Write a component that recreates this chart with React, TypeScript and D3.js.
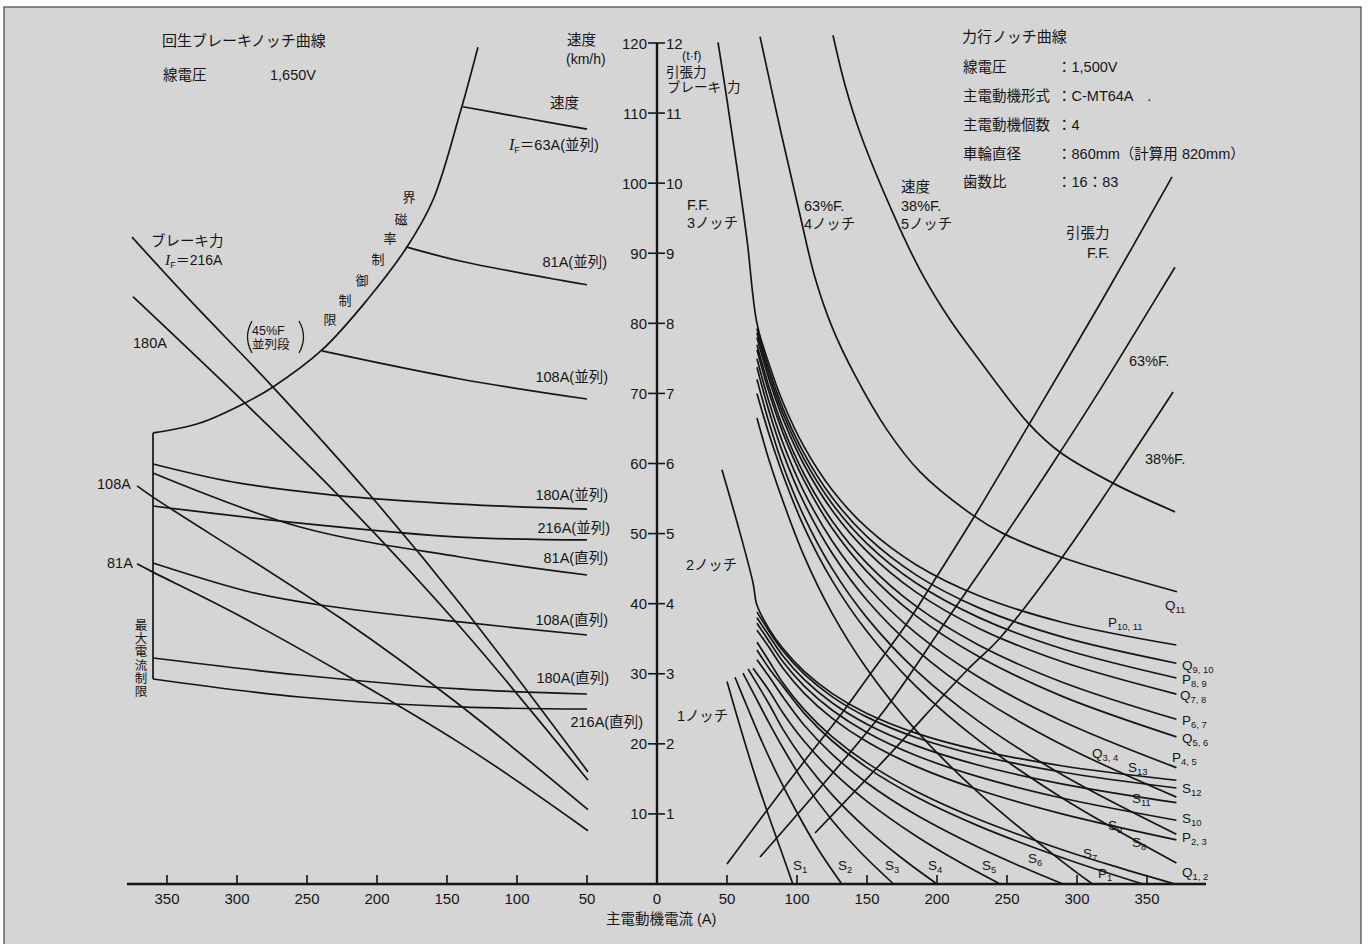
import React from 'react';
import * as d3 from 'd3';

type Pt = [number, number];

// ---------- axis ticks ----------
const currentTickValues = [50, 100, 150, 200, 250, 300, 350];
const speedTickValues = [10, 20, 30, 40, 50, 60, 70, 80, 90, 100, 110, 120];
const forceTickLabels = ['1', '2', '3', '4', '5', '6', '7', '8', '9', '10', '11', '12'];

// ---------- powering (right side): [current A, speed km/h] ----------
const notch3FF_P1011: Pt[] = [[43.6, 120.1], [50, 111.9], [57.1, 102.3], [64.3, 91.9], [71.4, 80.0], [80, 74.2], [90, 68.7], [105, 62.4], [125, 56.25], [150, 50.8], [185, 45.56], [230, 41.13], [290, 37.32], [371, 34.1]];
const notch4_63F_Q11: Pt[] = [[73.6, 120.9], [88.6, 107.2], [102.1, 95.5], [112.9, 86.5], [125, 79.5], [141.4, 72.6], [164.3, 64.8], [187.9, 58.8], [225, 52.7], [246.4, 50.1], [287.9, 46.7], [371.4, 41.7]];
const notch5_38F: Pt[] = [[125.7, 121.1], [134.3, 114.0], [145, 107.2], [168.6, 95.7], [187.9, 87.6], [209.3, 80.5], [228.6, 75.2], [265, 65.8], [287.9, 61.6], [325.7, 57.2], [370, 53.1]];
const Q910: Pt[] = [[71.4, 79.25], [80, 73.4], [90, 67.83], [105, 61.44], [125, 55.17], [150, 49.56], [185, 44.11], [230, 39.4], [290, 35.22], [371, 31.5]];
const P89: Pt[] = [[71.4, 78.65], [80, 72.75], [90, 67.14], [105, 60.67], [125, 54.3], [150, 48.57], [185, 42.94], [230, 38.01], [290, 33.53], [371, 29.4]];
const Q78: Pt[] = [[71.4, 77.98], [80, 72.04], [90, 66.37], [105, 59.82], [125, 53.34], [150, 47.47], [185, 41.65], [230, 36.47], [290, 31.67], [371, 27.1]];
const P67: Pt[] = [[71.4, 76.94], [80, 70.93], [90, 65.17], [105, 58.5], [125, 51.84], [150, 45.76], [185, 39.64], [230, 34.08], [290, 28.76], [371, 23.5]];
const Q56: Pt[] = [[71.4, 76.22], [80, 70.15], [90, 64.34], [105, 57.58], [125, 50.8], [150, 44.58], [185, 38.25], [230, 32.42], [290, 26.74], [371, 21.0]];
const P45: Pt[] = [[71.4, 74.95], [80, 68.8], [90, 62.88], [105, 55.96], [125, 48.98], [150, 42.49], [185, 35.79], [230, 29.49], [290, 23.19], [371, 16.6]];
const Q34: Pt[] = [[71.4, 73.74], [80, 67.5], [90, 61.48], [105, 54.41], [125, 47.23], [150, 40.49], [185, 33.45], [230, 26.7], [290, 19.8], [371, 12.4]];
const P23: Pt[] = [[71.4, 72.0], [80, 65.86], [90, 59.72], [105, 52.46], [125, 45.03], [150, 37.97], [185, 30.49], [230, 23.17], [290, 15.52], [371, 7.1]];
const Q12: Pt[] = [[71.4, 70.0], [80, 64.2], [90, 58.36], [105, 50.95], [125, 43.32], [150, 36.03], [185, 28.2], [230, 20.45], [290, 12.2], [371, 3.0]];
const P1: Pt[] = [[71.4, 66.5], [80, 60.5], [90, 54.62], [105, 46.81], [125, 38.64], [150, 30.68], [185, 21.92], [230, 12.96], [290, 3.12], [311, 0]];
const notch2_S13: Pt[] = [[46.4, 59.1], [59.3, 50.1], [68.6, 42.95], [71.4, 39.8], [80, 36.41], [90, 33.6], [105, 30.37], [125, 27.2], [150, 24.33], [185, 21.53], [230, 19.07], [290, 16.84], [371, 14.8]];
const S12: Pt[] = [[71.4, 38.8], [80, 36.07], [90, 33.24], [105, 29.97], [125, 26.74], [150, 23.81], [185, 20.91], [230, 18.34], [290, 15.95], [371, 13.7]];
const S11: Pt[] = [[71.4, 38.0], [80, 35.42], [90, 32.54], [105, 29.19], [125, 25.86], [150, 22.81], [185, 19.74], [230, 16.94], [290, 14.26], [371, 11.6]];
const S10: Pt[] = [[71.4, 37.2], [80, 34.65], [90, 31.71], [105, 28.27], [125, 24.83], [150, 21.62], [185, 18.34], [230, 15.28], [290, 12.24], [371, 9.1]];
const S9: Pt[] = [[71.4, 36.2], [80, 33.78], [90, 30.78], [105, 27.24], [125, 23.66], [150, 20.29], [185, 16.78], [230, 13.42], [290, 9.98], [371, 6.3]];
const S8: Pt[] = [[71.4, 34.5], [80, 31.82], [90, 28.67], [105, 24.91], [125, 21.02], [150, 17.28], [185, 13.24], [230, 9.2], [290, 4.86], [330, 2.34], [370, 0]];
const S7: Pt[] = [[71.4, 33.4], [80, 30.8], [90, 28.2], [105, 24.39], [125, 20.44], [150, 16.61], [185, 12.45], [230, 8.26], [290, 3.72], [347, 0]];
const S6: Pt[] = [[71.4, 32.0], [80, 29.6], [90, 26.67], [105, 22.69], [125, 18.53], [150, 14.42], [185, 9.88], [230, 5.2], [260, 2.5], [290, 0]];
const S5: Pt[] = [[68.6, 30.8], [80, 27.6], [90, 24.4], [105, 20.4], [125, 16.1], [150, 11.8], [185, 6.85], [215, 3.23], [245, 0]];
const S4: Pt[] = [[65, 30.7], [80, 25.69], [90, 22.06], [105, 17.59], [125, 12.76], [150, 7.84], [175, 3.67], [200, 0]];
const S3: Pt[] = [[61.4, 30.1], [70, 26.8], [80, 23.0], [90, 19.4], [105, 14.5], [125, 9.1], [145, 4.6], [169, 0]];
const S2: Pt[] = [[55.7, 29.5], [65, 25.0], [75, 20.3], [85, 16.0], [100, 10.2], [115, 5.0], [132, 0]];
const S1: Pt[] = [[50, 28.9], [60, 22.0], [70, 15.5], [80, 9.6], [90, 4.0], [97, 0]];

// tractive force (right): [current A, force t]
const tractiveFF: Pt[] = [[50, 0.285], [73.6, 0.92], [104.3, 1.727], [130.7, 2.4], [154.3, 3.05], [178.6, 3.72], [197.1, 4.3], [225, 5.19], [266.4, 6.58], [317.9, 8.33], [367.9, 10.09]];
const tractive63F: Pt[] = [[73.6, 0.385], [116.4, 1.37], [164.3, 2.53], [207.1, 3.77], [245, 4.87], [280.7, 5.94], [316.4, 7.05], [347.1, 8.05], [370, 8.8]];
const tractive38F: Pt[] = [[112.9, 0.728], [164.3, 1.81], [221.4, 3.05], [245, 3.51], [287.9, 4.62], [325.7, 5.72], [368.6, 7.02]];

// ---------- regenerative brake (left side): [current A, speed km/h] ----------
const fieldLimitBoundary: Pt[] = [[360, 64.36], [326.4, 65.78], [294.3, 68.64], [274.3, 70.92], [239.3, 76.2], [207.1, 83.33], [178.6, 90.9], [160, 97.6], [140.7, 110.0], [127.9, 119.4]];
const maxCurrentLimit: Pt[] = [[360, 64.36], [360, 29.25]];
const brake63P: Pt[] = [[138.6, 110.9], [94.3, 109.3], [50, 107.7]];
const brake81P: Pt[] = [[179.3, 90.9], [140.7, 88.9], [50, 85.5]];
const brake108P: Pt[] = [[239.3, 76.06], [140.7, 72.06], [50, 69.2]];
const brake180P: Pt[] = [[360, 59.93], [302.9, 57.36], [231.4, 55.5], [140.7, 54.2], [50, 53.5]];
const brake216P: Pt[] = [[360, 53.94], [255, 51.5], [140.7, 49.5], [50, 49.1]];
const brake81S: Pt[] = [[360, 58.65], [255, 50.94], [140.7, 46.66], [50, 44.09]];
const brake108S: Pt[] = [[360, 45.8], [290.7, 41.67], [240.7, 39.81], [140.7, 37.39], [50, 35.53]];
const brake180S: Pt[] = [[360, 32.25], [255, 29.82], [140.7, 27.83], [50, 27.11]];
const brake216S: Pt[] = [[360, 29.25], [255, 26.68], [140.7, 25.26], [50, 24.97]];

// brake force (left): [current A, force t]
const brakeForce216: Pt[] = [[375, 9.23], [333.6, 8.33], [274.3, 7.09], [205, 5.55], [140.7, 4.0], [49.3, 1.6]];
const brakeForce180: Pt[] = [[374.3, 8.38], [294.3, 6.86], [226.4, 5.52], [140.7, 3.67], [49.3, 1.48]];
const brakeForce108: Pt[] = [[371.4, 5.68], [360, 5.52], [224.3, 3.77], [140.7, 2.55], [49.3, 1.06]];
const brakeForce81: Pt[] = [[371.4, 4.57], [360, 4.45], [292.9, 3.77], [140.7, 2.01], [49.3, 0.76]];

const rightSpeedCurves = [notch3FF_P1011, notch4_63F_Q11, notch5_38F, Q910, P89, Q78, P67, Q56, P45, Q34, P23, Q12, P1,
  notch2_S13, S12, S11, S10, S9, S8, S7, S6, S5, S4, S3, S2, S1];
const rightForceCurves = [tractiveFF, tractive63F, tractive38F];
const leftSpeedCurves = [fieldLimitBoundary, maxCurrentLimit, brake63P, brake81P, brake108P, brake180P, brake216P, brake81S, brake108S, brake180S, brake216S];
const leftForceCurves = [brakeForce216, brakeForce180, brakeForce108, brakeForce81];

// ---------- scales ----------
const xR = d3.scaleLinear().domain([0, 350]).range([657, 1147]);
const xL = d3.scaleLinear().domain([0, 350]).range([657, 167]);
const yV = d3.scaleLinear().domain([0, 120]).range([884, 43]);
const yF = d3.scaleLinear().domain([0, 12]).range([884, 43]);

const crv = d3.curveCatmullRom.alpha(0.5);
const lineRV = d3.line<Pt>().x(d => xR(d[0])).y(d => yV(d[1])).curve(crv);
const lineRF = d3.line<Pt>().x(d => xR(d[0])).y(d => yF(d[1])).curve(crv);
const lineLV = d3.line<Pt>().x(d => xL(d[0])).y(d => yV(d[1])).curve(crv);
const lineLF = d3.line<Pt>().x(d => xL(d[0])).y(d => yF(d[1])).curve(crv);

const FONT = "'Liberation Sans', 'Noto Sans CJK JP', sans-serif";
const INK = '#151515';

const T = ({ x, y, children, size = 14.5, anchor = 'start' }: any) => (
  <text x={x} y={y} fontSize={size} textAnchor={anchor} dominantBaseline="central" fill={INK} fontFamily={FONT}>{children}</text>
);

const Sub = ({ x, y, main, sub, size = 13.5 }: any) => (
  <text x={x} y={y} fontSize={size} fill={INK} fontFamily={FONT}>
    {main}<tspan fontSize={size * 0.7} dy={3}>{sub}</tspan>
  </text>
);

const IF = ({ x, y, rest, size = 14.5 }: any) => (
  <text x={x} y={y} fontSize={size} fill={INK} fontFamily={FONT}>
    <tspan fontStyle="italic" fontFamily="'Liberation Serif', serif" fontSize={size + 1.5}>I</tspan>
    <tspan fontSize={9} dy={3}>F</tspan>
    <tspan dy={-3}>{rest}</tspan>
  </text>
);

export default function App() {
  const fieldChars = [['界', 409, 197], ['磁', 401, 219], ['率', 390, 238], ['制', 378, 259], ['御', 362, 280], ['制', 345, 300], ['限', 330, 319]];
  const maxChars = ['最', '大', '電', '流', '制', '限'];
  return (
    <svg width={1370} height={944} style={{ position: 'absolute', left: 0, top: 0 }}>
      <rect x={0} y={0} width={1370} height={944} fill="#ffffff" />
      <rect x={4} y={7} width={1357} height={945} fill="#d5d5d5" stroke="#444" strokeWidth={1.2} />

      {/* curves */}
      <g fill="none" stroke={INK} strokeWidth={1.7}>
        {rightSpeedCurves.map((c, i) => <path key={'rs' + i} d={lineRV(c) || ''} />)}
        {rightForceCurves.map((c, i) => <path key={'rf' + i} d={lineRF(c) || ''} />)}
        {leftSpeedCurves.map((c, i) => <path key={'ls' + i} d={lineLV(c) || ''} />)}
        {leftForceCurves.map((c, i) => <path key={'lf' + i} d={lineLF(c) || ''} />)}
      </g>

      {/* axes */}
      <g stroke={INK}>
        <line x1={127} x2={1206} y1={yV(0)} y2={yV(0)} strokeWidth={2.4} />
        <line x1={xR(0)} x2={xR(0)} y1={yV(120)} y2={yV(0)} strokeWidth={2.4} />
        {currentTickValues.map(v => (
          <g key={'xt' + v} strokeWidth={1.6}>
            <line x1={xR(v)} x2={xR(v)} y1={yV(0) - 9} y2={yV(0)} />
            <line x1={xL(v)} x2={xL(v)} y1={yV(0) - 9} y2={yV(0)} />
          </g>
        ))}
        {speedTickValues.map(v => (
          <line key={'yt' + v} x1={xR(0) - 9} x2={xR(0) + 8} y1={yV(v)} y2={yV(v)} strokeWidth={1.6} />
        ))}
      </g>
      {currentTickValues.map(v => (
        <g key={'xl' + v}>
          <T x={xR(v)} y={898} size={15} anchor="middle">{v}</T>
          <T x={xL(v)} y={898} size={15} anchor="middle">{v}</T>
        </g>
      ))}
      <T x={xR(0)} y={898} size={15} anchor="middle">0</T>
      {speedTickValues.map((v, i) => (
        <g key={'yl' + v}>
          <T x={xR(0) - 10} y={yV(v)} size={15} anchor="end">{v}</T>
          <T x={xR(0) + 9} y={yV(v)} size={15}>{forceTickLabels[i]}</T>
        </g>
      ))}
      <T x={606} y={919}>主電動機電流 (A)</T>

      {/* axis headings */}
      <T x={567} y={40}>速度</T>
      <T x={566} y={59} size={14}>(km/h)</T>
      <T x={682} y={56} size={12.5}>(t·f)</T>
      <T x={666} y={72} size={13.5}>引張力</T>
      <T x={667} y={87} size={13.5}>ブレーキ</T>
      <T x={727} y={87} size={13.5}>力</T>

      {/* left title block */}
      <T x={162} y={40} size={15}>回生ブレーキノッチ曲線</T>
      <T x={163} y={75}>線電圧</T>
      <T x={270} y={75}>1,650V</T>

      {/* right title block */}
      <T x={962} y={36} size={15}>力行ノッチ曲線</T>
      <T x={963} y={67}>線電圧</T>
      <T x={1057} y={67}>：1,500V</T>
      <T x={963} y={96}>主電動機形式</T>
      <T x={1057} y={96}>：C-MT64A　.</T>
      <T x={963} y={125}>主電動機個数</T>
      <T x={1057} y={125}>：4</T>
      <T x={963} y={154}>車輪直径</T>
      <T x={1057} y={154}>：860mm（計算用  820mm）</T>
      <T x={963} y={182}>歯数比</T>
      <T x={1057} y={182}>：16：83</T>

      {/* left side labels */}
      <T x={550} y={103}>速度</T>
      <IF x={509} y={150} rest="＝63A(並列)" />
      <T x={607} y={262} anchor="end">81A(並列)</T>
      <T x={608} y={377} anchor="end">108A(並列)</T>
      <T x={608} y={495} anchor="end">180A(並列)</T>
      <T x={610} y={528} anchor="end">216A(並列)</T>
      <T x={608} y={558} anchor="end">81A(直列)</T>
      <T x={608} y={620} anchor="end">108A(直列)</T>
      <T x={609} y={678} anchor="end">180A(直列)</T>
      <T x={643} y={722} anchor="end">216A(直列)</T>
      <T x={151} y={241}>ブレーキ力</T>
      <IF x={165} y={265} rest="＝216A" size={14} />
      <T x={133} y={343}>180A</T>
      <T x={97} y={484}>108A</T>
      <T x={107} y={563}>81A</T>
      {maxChars.map((c, i) => <T key={'mc' + i} x={141} y={626 + 13.2 * i} size={12.5} anchor="middle">{c}</T>)}
      {fieldChars.map((c, i) => <T key={'fc' + i} x={c[1]} y={c[2]} size={13} anchor="middle">{c[0]}</T>)}
      <T x={252} y={331} size={12.5}>45%F</T>
      <T x={252} y={345} size={12.5}>並列段</T>
      <path d="M252 321 Q243 337 252 353" fill="none" stroke={INK} strokeWidth={1.3} />
      <path d="M299 321 Q308 337 299 353" fill="none" stroke={INK} strokeWidth={1.3} />

      {/* right side labels */}
      <T x={687} y={205}>F.F.</T>
      <T x={687} y={223}>3ノッチ</T>
      <T x={804} y={206}>63%F.</T>
      <T x={804} y={224}>4ノッチ</T>
      <T x={901} y={187}>速度</T>
      <T x={901} y={206}>38%F.</T>
      <T x={901} y={224}>5ノッチ</T>
      <T x={1066} y={233}>引張力</T>
      <T x={1087} y={253}>F.F.</T>
      <T x={1129} y={361}>63%F.</T>
      <T x={1145} y={459}>38%F.</T>
      <T x={686} y={565}>2ノッチ</T>
      <T x={677} y={716}>1ノッチ</T>

      <Sub x={1165} y={610} main="Q" sub="11" />
      <Sub x={1108} y={627} main="P" sub="10, 11" />
      <Sub x={1182} y={670} main="Q" sub="9, 10" />
      <Sub x={1182} y={684} main="P" sub="8, 9" />
      <Sub x={1180} y={700} main="Q" sub="7, 8" />
      <Sub x={1182} y={725} main="P" sub="6, 7" />
      <Sub x={1182} y={743} main="Q" sub="5, 6" />
      <Sub x={1172} y={762} main="P" sub="4, 5" />
      <Sub x={1092} y={758} main="Q" sub="3, 4" />
      <Sub x={1128} y={772} main="S" sub="13" />
      <Sub x={1182} y={793} main="S" sub="12" />
      <Sub x={1132} y={803} main="S" sub="11" />
      <Sub x={1182} y={823} main="S" sub="10" />
      <Sub x={1108} y={830} main="S" sub="9" />
      <Sub x={1182} y={842} main="P" sub="2, 3" />
      <Sub x={1132} y={847} main="S" sub="8" />
      <Sub x={1083} y={858} main="S" sub="7" />
      <Sub x={1182} y={877} main="Q" sub="1, 2" />
      <Sub x={1098} y={878} main="P" sub="1" />
      <Sub x={1028} y={863} main="S" sub="6" />
      <Sub x={982} y={870} main="S" sub="5" />
      <Sub x={928} y={870} main="S" sub="4" />
      <Sub x={885} y={870} main="S" sub="3" />
      <Sub x={838} y={870} main="S" sub="2" />
      <Sub x={793} y={870} main="S" sub="1" />
    </svg>
  );
}
